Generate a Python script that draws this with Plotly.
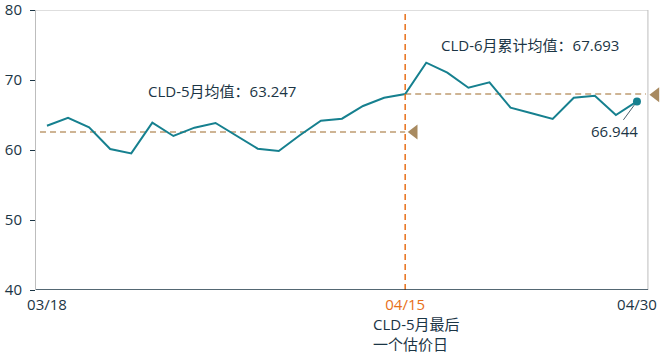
import plotly.graph_objects as go

# ---- data ----
x_idx = list(range(29))
values = [63.47, 64.6, 63.24, 60.14, 59.52, 63.9, 62.0, 63.19, 63.86, 62.0,
          60.19, 59.86, 62.1, 64.19, 64.47, 66.29, 67.47, 68.0, 72.47, 71.04,
          68.9, 69.67, 66.05, 65.24, 64.43, 67.47, 67.76, 65.0, 66.944]
tick_pos = [0, 17, 28]
tick_labels = ["03/18", "04/15", "04/30"]
y_ticks = [40, 50, 60, 70, 80]
cutoff_idx = 17
may_line_level = 62.57
jun_line_level = 68.0
may_label = "CLD-5月均值：63.247"
jun_label = "CLD-6月累计均值：67.693"
last_label = "66.944"
cutoff_note = "CLD-5月最后<br>一个估价日"

TEAL = "#16808F"
TAN = "#BE9C72"
TRI = "#A88A60"
ORANGE = "#E8701A"
TXT = "#1B3545"
FRAME = "#BDBDBD"
FONT = "Open Sans, Noto Sans CJK SC, sans-serif"

X_LEFT, X_RIGHT = -0.52, 28.52      # visible frame
X_RANGE_END = 29.33                 # axis extended so the right-side triangle can be drawn

fig = go.Figure()

# May mean dashed line
fig.add_trace(go.Scatter(x=[-0.33, cutoff_idx], y=[may_line_level, may_line_level], mode="lines",
                         line=dict(color=TAN, width=1.4, dash="6px,4px"), hoverinfo="skip"))
# June mean dashed line
fig.add_trace(go.Scatter(x=[cutoff_idx, 28.43], y=[jun_line_level, jun_line_level], mode="lines",
                         line=dict(color=TAN, width=1.4, dash="6px,4px"), hoverinfo="skip"))
# main line
fig.add_trace(go.Scatter(x=x_idx, y=values, mode="lines",
                         line=dict(color=TEAL, width=2), hoverinfo="skip"))
# last point marker
fig.add_trace(go.Scatter(x=[x_idx[-1]], y=[values[-1]], mode="markers",
                         marker=dict(color=TEAL, size=8), hoverinfo="skip"))
# triangles
fig.add_trace(go.Scatter(x=[cutoff_idx + 0.43, 28.9], y=[may_line_level, jun_line_level - 0.1],
                         mode="markers",
                         marker=dict(symbol="triangle-left", color=TRI, size=13),
                         hoverinfo="skip"))

# vertical cutoff line
fig.add_shape(type="line", xref="x", yref="y", x0=cutoff_idx, x1=cutoff_idx, y0=40, y1=80,
              line=dict(color=ORANGE, width=1.5, dash="6px,4px"), layer="above")
# frame: top, right (grey) and bottom axis (dark)
fig.add_shape(type="line", xref="x", yref="y", x0=X_LEFT, x1=X_RIGHT, y0=80, y1=80,
              line=dict(color=FRAME, width=1))
fig.add_shape(type="line", xref="x", yref="y", x0=X_RIGHT, x1=X_RIGHT, y0=40, y1=80,
              line=dict(color=FRAME, width=1))
fig.add_shape(type="line", xref="x", yref="y", x0=X_LEFT, x1=X_RIGHT, y0=40, y1=40,
              line=dict(color=TXT, width=1.6), layer="above")

fig.add_annotation(x=8.33, y=68.4, text=may_label, showarrow=False,
                   font=dict(size=15, color=TXT, family=FONT))
fig.add_annotation(x=22.9, y=75.0, text=jun_label, showarrow=False,
                   font=dict(size=15, color=TXT, family=FONT))
fig.add_annotation(x=x_idx[-1], y=values[-1], text=last_label, showarrow=True,
                   arrowhead=0, arrowwidth=0.8, arrowcolor=TXT, ax=-22, ay=30, standoff=4,
                   font=dict(size=15, color=TXT, family=FONT))
fig.add_annotation(x=15.38, xref="x", y=-0.078, yref="paper",
                   yanchor="top", xanchor="left", align="left", showarrow=False,
                   text=cutoff_note, font=dict(size=15, color=TXT, family=FONT))

ticktext = [t if i != 1 else f"<span style='color:{ORANGE}'>{t}</span>"
            for i, t in enumerate(tick_labels)]

fig.update_layout(
    width=665, height=356,
    margin=dict(l=36, r=0, t=10, b=66),
    paper_bgcolor="white", plot_bgcolor="white",
    showlegend=False,
    font=dict(family=FONT, color=TXT, size=15),
    xaxis=dict(range=[X_LEFT, X_RANGE_END], tickvals=tick_pos, ticktext=ticktext,
               showgrid=False, zeroline=False, showline=False,
               ticks="outside", ticklen=1, tickcolor="rgba(0,0,0,0)",
               tickfont=dict(size=15, color=TXT)),
    yaxis=dict(range=[40, 80], tickvals=y_ticks, showgrid=False, zeroline=False,
               showline=True, linecolor=FRAME, linewidth=1, mirror=False,
               ticks="outside", ticklen=5, tickcolor=TXT, ticklabelstandoff=5,
               ticklabeloverflow="allow", tickfont=dict(size=15, color=TXT)),
)

fig.write_html("out.html", post_script="document.body.style.margin='0';",
               config={"displayModeBar": False})
